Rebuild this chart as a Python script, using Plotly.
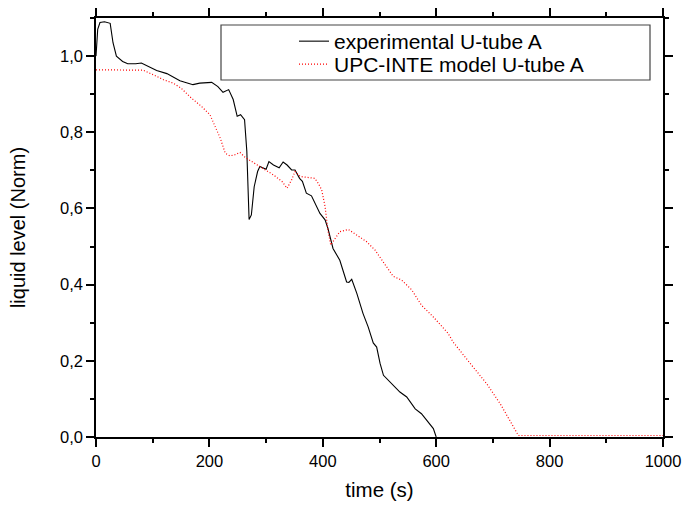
import plotly.graph_objects as go

# experimental U-tube A (black solid)
t_exp = [0, 3, 7, 15, 25, 30, 36, 47, 56, 70, 80, 89, 107, 125, 148, 171, 183, 204, 215, 224, 234,
         242, 249, 255, 262, 266, 268, 270, 274, 279, 285, 289, 300, 305, 313, 323, 330, 337, 345,
         351, 359, 364, 371, 380, 395, 404, 409, 418, 430, 442, 446, 451, 460, 471, 480, 489, 495,
         501, 507, 519, 536, 548, 563, 574, 586, 595, 600]
v_exp = [1.0, 1.07, 1.088, 1.09, 1.086, 1.035, 1.0, 0.986, 0.98, 0.98, 0.982, 0.975, 0.962, 0.954,
         0.935, 0.925, 0.929, 0.931, 0.92, 0.905, 0.912, 0.886, 0.842, 0.846, 0.833, 0.75, 0.62,
         0.571, 0.583, 0.657, 0.697, 0.710, 0.703, 0.723, 0.714, 0.707, 0.722, 0.714, 0.701, 0.701,
         0.679, 0.671, 0.640, 0.633, 0.587, 0.570, 0.548, 0.495, 0.464, 0.407, 0.406, 0.414, 0.377,
         0.324, 0.289, 0.247, 0.236, 0.193, 0.162, 0.144, 0.118, 0.105, 0.074, 0.061, 0.039, 0.022, 0.0]

# UPC-INTE model U-tube A (red dotted)
t_mod = [0, 40, 83, 101, 119, 136, 150, 168, 186, 201, 210, 219, 228, 236, 245, 254, 263, 269, 289,
         313, 328, 337, 345, 351, 360, 386, 392, 398, 404, 409, 414, 418, 430, 445, 460, 477, 492,
         510, 524, 539, 557, 574, 595, 621, 630, 660, 689, 713, 730, 745, 800, 900, 1000]
v_mod = [0.964, 0.964, 0.963, 0.951, 0.938, 0.929, 0.916, 0.890, 0.868, 0.846, 0.815, 0.785, 0.745,
         0.738, 0.741, 0.747, 0.734, 0.728, 0.710, 0.688, 0.671, 0.653, 0.675, 0.697, 0.684, 0.679,
         0.666, 0.649, 0.605, 0.543, 0.504, 0.513, 0.539, 0.545, 0.530, 0.513, 0.491, 0.451, 0.422,
         0.412, 0.386, 0.346, 0.315, 0.272, 0.249, 0.193, 0.140, 0.087, 0.043, 0.004, 0.004, 0.004, 0.004]

x_ticks = [0, 200, 400, 600, 800, 1000]
y_ticks = [0.0, 0.2, 0.4, 0.6, 0.8, 1.0]

FONT = "Liberation Sans, Arial"

fig = go.Figure()
fig.add_trace(go.Scatter(x=t_exp, y=v_exp, mode="lines", name="experimental U-tube A",
                         line=dict(color="black", width=1.1), legend="legend"))
fig.add_trace(go.Scatter(x=t_mod, y=v_mod, mode="lines", name="UPC-INTE model U-tube A",
                         line=dict(color="red", width=1.2, dash="1px,2px"), legend="legend2"))

axis_common = dict(showline=True, linecolor="black", linewidth=1.5, mirror="ticks",
                   ticks="outside", ticklen=8, tickwidth=1.5, tickcolor="black",
                   showgrid=False, zeroline=False, automargin=False,
                   tickfont=dict(family=FONT, size=16.5, color="black"))

fig.update_xaxes(range=[0, 1000], tickvals=x_ticks,
                 minor=dict(dtick=100, ticklen=4, tickwidth=1.5, tickcolor="black", ticks="outside"),
                 title=dict(text="time (s)", font=dict(family=FONT, size=20.5, color="black"),
                            standoff=14),
                 **axis_common)
fig.update_yaxes(range=[0, 1.1], tickvals=y_ticks, tickformat=".1f",
                 minor=dict(dtick=0.1, ticklen=4, tickwidth=1.5, tickcolor="black", ticks="outside"),
                 title=dict(text="liquid level (Norm)", font=dict(family=FONT, size=20, color="black"),
                            standoff=29),
                 **axis_common)

fig.add_shape(type="rect", xref="paper", yref="paper",
              x0=(221 - 96) / 567, x1=(650 - 96) / 567, y0=(437 - 80) / 419, y1=(437 - 25) / 419,
              line=dict(color="#444", width=1.2), fillcolor="white", layer="below")

leg = dict(xanchor="left", yanchor="top", bgcolor="rgba(0,0,0,0)", borderwidth=0,
           font=dict(family=FONT, size=21, color="black"))

fig.update_layout(
    width=685, height=506,
    margin=dict(l=96, r=22, t=18, b=69, autoexpand=False),
    paper_bgcolor="white", plot_bgcolor="white",
    separators=", ",
    showlegend=True,
    legend=dict(x=(294 - 96) / 567, y=(437 - 21) / 419, **leg),
    legend2=dict(x=(294 - 96) / 567, y=(437 - 44) / 419, **leg),
)

fig.write_html("out.html")
